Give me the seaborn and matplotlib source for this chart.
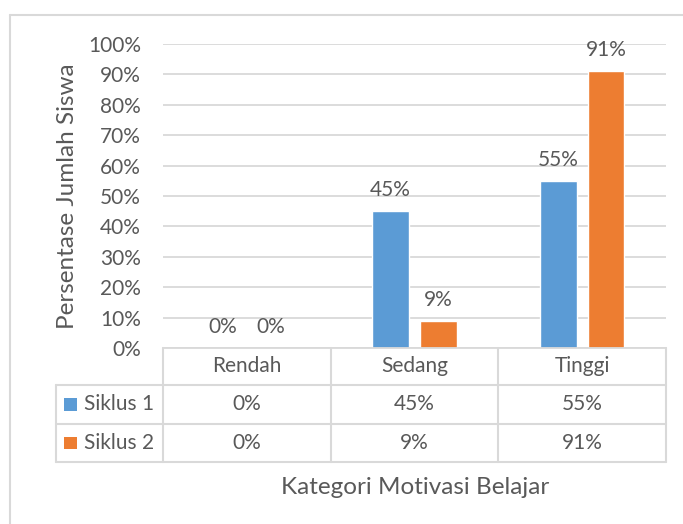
"""
plot.py

Bar chart with Excel-style data table: motivasi belajar per siklus.
"""

import matplotlib
matplotlib.use("Agg")
import matplotlib.pyplot as plt
from matplotlib.lines import Line2D
from matplotlib.patches import Rectangle
from matplotlib.ticker import PercentFormatter
import pandas as pd
import seaborn as sns

# --- Data ---
categories = ["Rendah", "Sedang", "Tinggi"]
series_names = ["Siklus 1", "Siklus 2"]
siklus_1 = [0.00, 0.45, 0.55]
siklus_2 = [0.00, 0.09, 0.91]
series_colors = ["#5B9BD5", "#ED7D31"]

y_label = "Persentase Jumlah Siswa"
x_label = "Kategori Motivasi Belajar"

TEXT = "#595959"
GRID = "#d9d9d9"
FONT = ["Lato", "DejaVu Sans"]
FS = 15
FS_TITLE = 17.5

df = pd.DataFrame({
    "kategori": categories * 2,
    "siklus": [series_names[0]] * 3 + [series_names[1]] * 3,
    "nilai": siklus_1 + siklus_2,
})

sns.set_theme(style="white")
plt.rcParams["font.family"] = FONT
plt.rcParams["text.color"] = TEXT

W, H = 683, 524
fig = plt.figure(figsize=(W / 100, H / 100), dpi=100)
ax = fig.add_axes([163 / W, 1 - 348 / H, 503 / W, 304 / H])

sns.barplot(
    data=df, x="kategori", y="nilai", hue="siklus",
    order=categories, hue_order=series_names,
    palette=series_colors, width=0.57, gap=0.23,
    saturation=1, legend=False, ax=ax,
)

for cont in ax.containers:
    ax.bar_label(cont, labels=[f"{v * 100:.0f}%" for v in cont.datavalues],
                 padding=8, fontsize=FS, color=TEXT)

ax.set_ylim(0, 1)
ax.set_xlim(-0.5, 2.5)
ax.yaxis.set_major_locator(plt.MultipleLocator(0.1))
ax.yaxis.set_major_formatter(PercentFormatter(1.0, decimals=0))
ax.tick_params(axis="y", length=0, pad=16, labelsize=FS, labelcolor=TEXT)
ax.set_xticks([])
ax.set_xlabel("")
ax.set_ylabel("")
ax.grid(axis="y", color=GRID, linewidth=1.3)
ax.set_axisbelow(True)
for side in ["top", "right", "left"]:
    ax.spines[side].set_visible(False)
ax.spines["bottom"].set_color(GRID)
ax.spines["bottom"].set_linewidth(1.3)

# --- Data table under the axis ---
tr = ax.get_xaxis_transform()
x_left = -0.5 + (56 - 163) / (503 / 3)
rows = [0.0, -37 / 304, -76 / 304, -114 / 304]
line_kw = dict(color=GRID, linewidth=1.5, transform=tr, clip_on=False)

for y in rows[1:]:
    ax.add_line(Line2D([x_left, 2.5], [y, y], **line_kw))
for x in [-0.5, 0.5, 1.5, 2.5]:
    ax.add_line(Line2D([x, x], [rows[0], rows[-1]], **line_kw))
ax.add_line(Line2D([x_left, x_left], [rows[1], rows[-1]], **line_kw))

txt_kw = dict(transform=tr, ha="center", va="center", fontsize=FS, color=TEXT)
for i, cat in enumerate(categories):
    ax.text(i, (rows[0] + rows[1]) / 2, cat, **txt_kw)
for r, (name, vals, col) in enumerate(zip(series_names, [siklus_1, siklus_2], series_colors)):
    yc = (rows[r + 1] + rows[r + 2]) / 2
    for i, v in enumerate(vals):
        ax.text(i, yc, f"{v * 100:.0f}%", **txt_kw)
    ax.add_patch(Rectangle((x_left + 0.045, yc - 0.021), 0.08, 0.042,
                           facecolor=col, edgecolor="none",
                           transform=tr, clip_on=False))
    ax.text(x_left + 0.165, yc, name, transform=tr, ha="left", va="center",
            fontsize=FS, color=TEXT)

# --- Axis titles ---
fig.text(415 / W, 1 - 487 / H, x_label, ha="center", va="center",
         fontsize=FS_TITLE, color=TEXT)
fig.text(68 / W, 1 - 196 / H, y_label, ha="center", va="center",
         rotation=90, fontsize=FS_TITLE, color=TEXT)

# --- Chart frame (top and left edges visible) ---
fig.add_artist(Line2D([10 / W, 1], [1 - 15 / H, 1 - 15 / H], color=GRID,
                      linewidth=1.5, transform=fig.transFigure))
fig.add_artist(Line2D([10 / W, 10 / W], [0, 1 - 15 / H], color=GRID,
                      linewidth=1.5, transform=fig.transFigure))

fig.savefig("out.png", dpi=100)
plt.close(fig)
